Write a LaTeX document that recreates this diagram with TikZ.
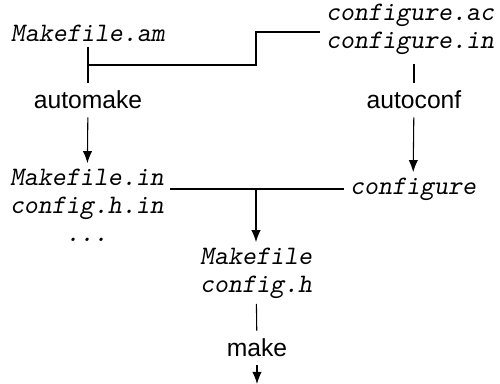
\documentclass[tikz,border=0pt]{standalone}
\usepackage{fontspec}
\setmainfont{Liberation Sans}
\usetikzlibrary{arrows.meta, positioning}

\begin{document}
\begin{tikzpicture}[
						x=0.75pt, y=-0.75pt,
						file/.style = {font=\ttfamily\slshape\fontsize{20}{21}\selectfont, align=center, inner sep=4pt},
						tool/.style = {font=\fontsize{18.5}{22}\selectfont, inner xsep=5pt, inner ysep=6pt},
						line/.style = {draw, line width=0.8pt},
						arrow/.style = {line, -{Latex[length=9pt,width=7pt]}}
					]
\useasboundingbox (0,0) rectangle (500,384);

\node[file] (mam) at (88,33) {Makefile.am};
\node[file] (cfgac) at (410,29) {configure.ac\\configure.in};
\node[tool] (automake) at (88,100) {automake};
\node[tool] (autoconf) at (414,100) {autoconf};
\node[file] (mkin) at (87,205) {Makefile.in\\config.h.in\\...};
\node[file] (cfg) at (413,189) {configure};
\node[file] (mkf) at (256,273) {Makefile\\config.h};
\node[tool] (make) at (257,348) {make};
\coordinate (amsplit) at (88,65);
\coordinate (acstep) at (256,32);
\coordinate (out) at (257,384);

\draw[line] (mam) -- (automake);
\draw[line] (amsplit) -| (acstep) -- (acstep -| cfgac.west);
\draw[line, shorten <=3pt] (cfgac.south -| autoconf) -- (autoconf);
\draw[arrow] (automake) -- (mkin);
\draw[arrow] (autoconf) -- (cfg);
\draw[line] (cfg.west -| mkin.east) -- (cfg.west);
\draw[arrow] (mkf.north |- cfg.west) -- (mkf);
\draw[line] (mkf) -- (make);
\draw[arrow] (make) -- (out);
\end{tikzpicture}
\end{document}
